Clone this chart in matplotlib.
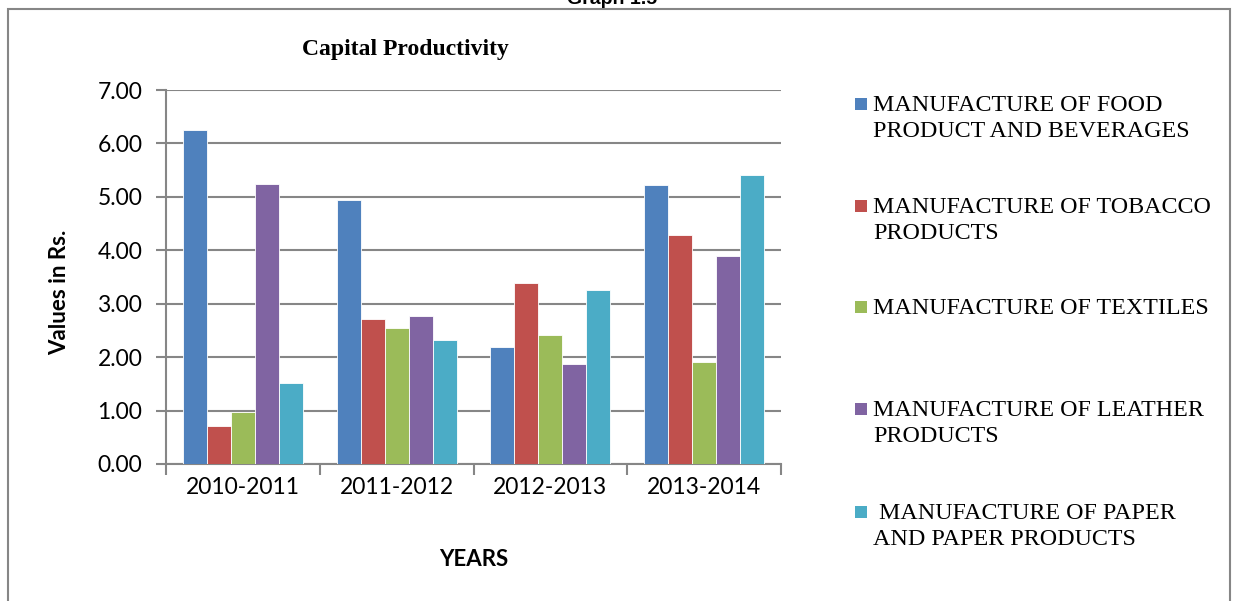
import numpy as np
import matplotlib
matplotlib.use("Agg")
import matplotlib.pyplot as plt
from matplotlib.patches import Rectangle

# data
years = ["2010-2011", "2011-2012", "2012-2013", "2013-2014"]
series = [
    "MANUFACTURE OF FOOD\nPRODUCT AND BEVERAGES",
    "MANUFACTURE OF TOBACCO\nPRODUCTS",
    "MANUFACTURE OF TEXTILES",
    "MANUFACTURE OF LEATHER\nPRODUCTS",
    " MANUFACTURE OF PAPER\nAND PAPER PRODUCTS",
]
food = [6.25, 4.94, 2.19, 5.23]
tobacco = [0.71, 2.71, 3.38, 4.28]
textiles = [0.98, 2.55, 2.41, 1.91]
leather = [5.25, 2.77, 1.88, 3.89]
paper = [1.52, 2.33, 3.25, 5.41]
values = [food, tobacco, textiles, leather, paper]
colors = ["#4F81BD", "#C0504D", "#9BBB59", "#8064A2", "#4BACC6"]

W, H = 1237, 601
fig = plt.figure(figsize=(W / 100, H / 100), dpi=100)
ax = fig.add_axes([166 / W, 1 - 464 / H, (781 - 166) / W, (464 - 90) / H])

grey = "#868686"
x = np.arange(len(years))
bw = 0.156
for i, (vals, c) in enumerate(zip(values, colors)):
    ax.bar(x + (i - 2) * bw, vals, width=bw, color=c, edgecolor="white",
           linewidth=0.6, zorder=3)

ax.set_xlim(-0.5, 3.5)
ax.set_ylim(0, 7)
ax.set_yticks(range(8))
ax.set_yticklabels([f"{v:.2f}" for v in range(8)], family="Lato", fontsize=16.5)
ax.set_xticks(x)
ax.set_xticklabels(years, family="Lato", fontsize=16.5)
ax.set_xticks(np.arange(-0.5, 4, 1), minor=True)
ax.tick_params(axis="x", which="major", length=0, pad=9)
ax.tick_params(axis="x", which="minor", length=8, width=1.5, color=grey)
ax.tick_params(axis="y", length=7, width=1.5, color=grey, pad=10)
ax.yaxis.grid(True, color=grey, linewidth=1.5, zorder=0)
for s in ["top", "right"]:
    ax.spines[s].set_visible(False)
for s in ["left", "bottom"]:
    ax.spines[s].set_color(grey)
    ax.spines[s].set_linewidth(1.5)

fig.text(60 / W, 1 - 292 / H, "Values in Rs.", family="Lato", fontweight="bold",
         fontsize=16, rotation=90, ha="center", va="center")
fig.text(474 / W, 1 - 560 / H, "YEARS", family="Lato", fontweight="bold",
         fontsize=16, ha="center", va="center")

fig.text(405 / W, 1 - 50 / H, "Capital Productivity", family="Liberation Serif",
         fontweight="bold", fontsize=17, ha="center", va="center")
fig.text(612 / W, 1.0, "Graph 1.5", family="Liberation Sans",
         fontweight="bold", fontsize=14, ha="center", va="center")

# legend drawn by hand so the marker sits on the first text line
rows = [104, 206, 307, 409, 512]
for lab, c, y in zip(series, colors, rows):
    fig.patches.append(Rectangle((855 / W, 1 - (y + 6) / H), 12 / W, 12 / H,
                                 transform=fig.transFigure, facecolor=c,
                                 edgecolor="none"))
    fig.text(873 / W, 1 - (y - 9) / H, lab, family="Liberation Serif",
             fontsize=17.3, ha="left", va="top", linespacing=1.3)

# page frame
fig.patches.append(Rectangle((8 / W, -0.1), (1230 - 8) / W, 1.1 - 9 / H,
                             transform=fig.transFigure, fill=False,
                             edgecolor=grey, linewidth=1.5))

fig.savefig("out.png", dpi=100)
